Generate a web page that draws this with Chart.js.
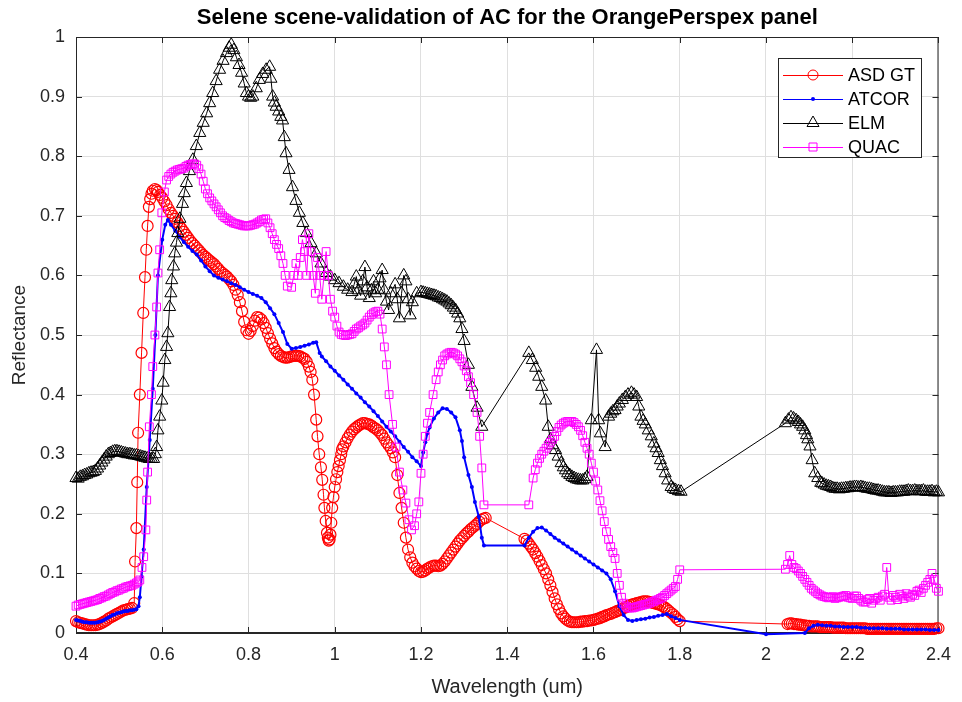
<!DOCTYPE html>
<html>
<head>
<meta charset="utf-8">
<script src="https://cdn.jsdelivr.net/npm/chart.js@4.4.1/dist/chart.umd.min.js"></script>
<style>
  html, body { margin: 0; padding: 0; background: #fff; }
  #wrap { width: 962px; height: 702px; }
</style>
</head>
<body>
<div id="wrap"><canvas id="chart" width="962" height="702"></canvas></div>
<script>
// [wavelength (um), reflectance]
const asdGT = [
  [0.400,0.020],[0.405,0.018],[0.410,0.017],[0.415,0.016],[0.420,0.015],[0.425,0.014],[0.430,0.013],[0.435,0.013],
  [0.440,0.013],[0.445,0.013],[0.450,0.014],[0.455,0.015],[0.460,0.017],[0.465,0.019],[0.470,0.021],[0.475,0.024],
  [0.480,0.026],[0.485,0.028],[0.490,0.030],[0.495,0.032],[0.500,0.034],[0.505,0.036],[0.510,0.038],[0.515,0.039],
  [0.520,0.040],[0.525,0.041],[0.530,0.042],[0.535,0.050],[0.537,0.120],[0.540,0.176],[0.542,0.253],[0.544,0.336],
  [0.548,0.400],[0.552,0.470],[0.556,0.537],[0.560,0.597],[0.563,0.643],[0.566,0.683],[0.569,0.715],[0.572,0.728],
  [0.575,0.737],[0.578,0.742],[0.583,0.745],[0.587,0.743],[0.590,0.740],[0.595,0.735],[0.600,0.730],[0.605,0.724],
  [0.610,0.718],[0.615,0.711],[0.620,0.705],[0.625,0.700],[0.630,0.695],[0.635,0.689],[0.640,0.683],[0.645,0.678],
  [0.650,0.673],[0.655,0.668],[0.660,0.663],[0.665,0.658],[0.670,0.654],[0.675,0.650],[0.680,0.646],[0.685,0.642],
  [0.690,0.638],[0.695,0.634],[0.700,0.631],[0.705,0.628],[0.710,0.625],[0.715,0.622],[0.720,0.619],[0.725,0.615],
  [0.730,0.611],[0.735,0.607],[0.740,0.604],[0.745,0.601],[0.750,0.598],[0.755,0.594],[0.760,0.590],[0.765,0.584],
  [0.770,0.576],[0.775,0.567],[0.780,0.555],[0.785,0.540],[0.790,0.522],[0.795,0.508],[0.800,0.502],[0.805,0.507],
  [0.810,0.515],[0.815,0.524],[0.820,0.530],[0.825,0.529],[0.830,0.526],[0.835,0.520],[0.840,0.512],[0.845,0.503],
  [0.850,0.494],[0.855,0.486],[0.860,0.478],[0.865,0.472],[0.870,0.468],[0.875,0.465],[0.880,0.463],[0.885,0.462],
  [0.890,0.462],[0.895,0.463],[0.900,0.464],[0.905,0.465],[0.910,0.465],[0.915,0.465],[0.920,0.464],[0.925,0.462],
  [0.930,0.460],[0.935,0.455],[0.940,0.447],[0.944,0.438],[0.948,0.425],[0.952,0.400],[0.957,0.358],[0.960,0.330],
  [0.964,0.300],[0.968,0.278],[0.971,0.257],[0.974,0.232],[0.976,0.210],[0.979,0.188],[0.982,0.168],[0.984,0.160],
  [0.986,0.155],[0.988,0.157],[0.990,0.165],[0.992,0.185],[0.994,0.210],[0.997,0.228],[1.000,0.245],[1.003,0.258],
  [1.006,0.270],[1.009,0.280],[1.012,0.290],[1.015,0.300],[1.017,0.308],[1.020,0.313],[1.025,0.320],[1.030,0.327],
  [1.035,0.333],[1.040,0.338],[1.045,0.342],[1.050,0.345],[1.055,0.348],[1.060,0.350],[1.065,0.352],[1.070,0.352],
  [1.075,0.351],[1.080,0.350],[1.085,0.348],[1.090,0.345],[1.095,0.343],[1.100,0.340],[1.105,0.336],[1.110,0.332],
  [1.115,0.326],[1.120,0.320],[1.125,0.315],[1.130,0.310],[1.135,0.303],[1.140,0.295],[1.145,0.265],[1.150,0.235],
  [1.155,0.210],[1.160,0.185],[1.165,0.160],[1.170,0.140],[1.175,0.127],[1.180,0.118],[1.185,0.112],[1.190,0.108],
  [1.195,0.104],[1.200,0.102],[1.205,0.103],[1.210,0.105],[1.215,0.108],[1.220,0.110],[1.225,0.112],[1.230,0.113],
  [1.235,0.113],[1.240,0.112],[1.245,0.113],[1.250,0.116],[1.255,0.120],[1.260,0.125],[1.265,0.130],[1.270,0.135],
  [1.275,0.140],[1.280,0.145],[1.285,0.150],[1.290,0.155],[1.295,0.159],[1.300,0.163],[1.305,0.167],[1.310,0.170],
  [1.315,0.174],[1.320,0.177],[1.325,0.180],[1.330,0.183],[1.335,0.187],[1.340,0.190],[1.345,0.192],[1.350,0.193],
  [1.440,0.158],[1.445,0.155],[1.450,0.150],[1.455,0.145],[1.460,0.140],[1.465,0.134],[1.470,0.128],[1.475,0.121],
  [1.480,0.114],[1.485,0.107],[1.490,0.100],[1.495,0.090],[1.500,0.080],[1.505,0.069],[1.510,0.058],[1.515,0.048],
  [1.520,0.040],[1.525,0.033],[1.530,0.028],[1.535,0.024],[1.540,0.021],[1.545,0.019],[1.550,0.018],[1.555,0.018],
  [1.560,0.018],[1.565,0.018],[1.570,0.019],[1.575,0.019],[1.580,0.020],[1.585,0.020],[1.590,0.021],[1.595,0.021],
  [1.600,0.022],[1.605,0.023],[1.610,0.024],[1.615,0.025],[1.620,0.027],[1.625,0.028],[1.630,0.030],[1.635,0.031],
  [1.640,0.032],[1.645,0.034],[1.650,0.035],[1.655,0.037],[1.660,0.038],[1.665,0.040],[1.670,0.042],[1.675,0.043],
  [1.680,0.045],[1.685,0.047],[1.690,0.048],[1.695,0.049],[1.700,0.050],[1.705,0.051],[1.710,0.052],[1.715,0.053],
  [1.720,0.053],[1.725,0.053],[1.730,0.052],[1.735,0.051],[1.740,0.050],[1.745,0.049],[1.750,0.048],[1.755,0.047],
  [1.760,0.045],[1.765,0.043],[1.770,0.040],[1.775,0.037],[1.780,0.034],[1.785,0.031],[1.790,0.027],[1.795,0.023],
  [1.800,0.020],[2.050,0.015],[2.055,0.016],[2.060,0.016],[2.065,0.015],[2.070,0.015],[2.075,0.014],[2.080,0.014],
  [2.085,0.013],[2.090,0.013],[2.095,0.012],[2.100,0.012],[2.105,0.011],[2.110,0.011],[2.115,0.011],[2.120,0.011],
  [2.125,0.010],[2.130,0.010],[2.135,0.010],[2.140,0.010],[2.145,0.010],[2.150,0.010],[2.155,0.009],[2.160,0.009],
  [2.165,0.009],[2.170,0.009],[2.175,0.009],[2.180,0.009],[2.185,0.008],[2.190,0.008],[2.195,0.008],[2.200,0.008],
  [2.205,0.008],[2.210,0.008],[2.215,0.008],[2.220,0.008],[2.225,0.008],[2.230,0.008],[2.235,0.007],[2.240,0.007],
  [2.245,0.007],[2.250,0.007],[2.255,0.007],[2.260,0.007],[2.265,0.007],[2.270,0.007],[2.275,0.007],[2.280,0.007],
  [2.285,0.007],[2.290,0.007],[2.295,0.007],[2.300,0.007],[2.305,0.007],[2.310,0.007],[2.315,0.007],[2.320,0.007],
  [2.325,0.007],[2.330,0.007],[2.335,0.007],[2.340,0.007],[2.345,0.007],[2.350,0.007],[2.355,0.007],[2.360,0.007],
  [2.365,0.007],[2.370,0.007],[2.375,0.007],[2.380,0.007],[2.385,0.007],[2.390,0.007],[2.395,0.008],[2.400,0.008]
];

const atcor = [
  [0.400,0.022],[0.405,0.021],[0.410,0.020],[0.415,0.019],[0.420,0.018],[0.425,0.018],[0.430,0.017],[0.435,0.017],
  [0.440,0.017],[0.445,0.017],[0.450,0.018],[0.455,0.019],[0.460,0.020],[0.465,0.022],[0.470,0.024],[0.475,0.026],
  [0.480,0.028],[0.485,0.030],[0.490,0.031],[0.495,0.033],[0.500,0.034],[0.505,0.035],[0.510,0.036],[0.515,0.037],
  [0.520,0.037],[0.525,0.038],[0.530,0.038],[0.535,0.039],[0.540,0.040],[0.545,0.045],[0.548,0.060],[0.552,0.095],
  [0.557,0.140],[0.564,0.245],[0.571,0.324],[0.578,0.410],[0.584,0.500],[0.590,0.600],[0.600,0.660],[0.607,0.685],
  [0.613,0.693],[0.620,0.685],[0.630,0.675],[0.640,0.665],[0.650,0.656],[0.660,0.648],[0.670,0.641],[0.680,0.635],
  [0.690,0.625],[0.700,0.615],[0.710,0.607],[0.720,0.600],[0.730,0.596],[0.740,0.593],[0.750,0.590],[0.760,0.587],
  [0.770,0.584],[0.780,0.580],[0.790,0.576],[0.800,0.572],[0.810,0.569],[0.820,0.566],[0.830,0.562],[0.840,0.555],
  [0.850,0.545],[0.860,0.535],[0.870,0.520],[0.880,0.505],[0.890,0.485],[0.900,0.477],[0.910,0.478],[0.920,0.480],
  [0.930,0.482],[0.940,0.484],[0.950,0.487],[0.957,0.488],[0.965,0.470],[0.970,0.464],[0.980,0.456],[0.990,0.447],
  [1.000,0.440],[1.010,0.432],[1.020,0.425],[1.030,0.417],[1.040,0.410],[1.050,0.402],[1.060,0.395],[1.070,0.387],
  [1.080,0.380],[1.090,0.372],[1.100,0.364],[1.110,0.355],[1.120,0.346],[1.130,0.338],[1.140,0.330],[1.150,0.321],
  [1.160,0.312],[1.170,0.304],[1.180,0.295],[1.190,0.288],[1.200,0.280],[1.205,0.303],[1.210,0.320],[1.215,0.335],
  [1.220,0.345],[1.230,0.360],[1.240,0.370],[1.250,0.377],[1.260,0.376],[1.270,0.370],[1.280,0.362],[1.290,0.340],
  [1.295,0.322],[1.300,0.295],[1.310,0.265],[1.318,0.245],[1.325,0.220],[1.334,0.195],[1.341,0.160],[1.346,0.147],
  [1.440,0.147],[1.450,0.160],[1.460,0.170],[1.470,0.176],[1.480,0.177],[1.490,0.172],[1.500,0.166],[1.510,0.160],
  [1.520,0.155],[1.530,0.150],[1.540,0.145],[1.550,0.140],[1.560,0.135],[1.570,0.130],[1.580,0.125],[1.590,0.120],
  [1.600,0.115],[1.610,0.110],[1.620,0.105],[1.630,0.100],[1.640,0.090],[1.650,0.070],[1.660,0.045],[1.670,0.030],
  [1.680,0.022],[1.690,0.020],[1.700,0.022],[1.710,0.023],[1.720,0.024],[1.730,0.026],[1.740,0.027],[1.750,0.029],
  [1.760,0.030],[1.770,0.032],[1.780,0.028],[1.790,0.025],[1.800,0.022],[2.000,-0.002],[2.090,0.000],[2.100,0.008],
  [2.110,0.012],[2.120,0.014],[2.130,0.013],[2.140,0.012],[2.150,0.012],[2.160,0.011],[2.170,0.011],[2.180,0.010],
  [2.190,0.010],[2.200,0.010],[2.210,0.010],[2.220,0.009],[2.230,0.009],[2.240,0.008],[2.250,0.008],[2.260,0.008],
  [2.270,0.008],[2.280,0.007],[2.290,0.007],[2.300,0.007],[2.310,0.007],[2.320,0.006],[2.330,0.006],[2.340,0.006],
  [2.350,0.006],[2.360,0.006],[2.370,0.006],[2.380,0.005],[2.390,0.005],[2.400,0.005]
];

const elm = [
  [0.400,0.260],[0.405,0.259],[0.410,0.262],[0.415,0.263],[0.420,0.265],[0.425,0.266],[0.430,0.268],[0.435,0.269],
  [0.440,0.270],[0.445,0.272],[0.450,0.276],[0.455,0.281],[0.460,0.286],[0.465,0.291],[0.470,0.296],[0.475,0.300],
  [0.480,0.302],[0.485,0.304],[0.490,0.305],[0.495,0.305],[0.500,0.304],[0.505,0.303],[0.510,0.302],[0.515,0.301],
  [0.520,0.300],[0.525,0.300],[0.530,0.299],[0.535,0.298],[0.540,0.298],[0.545,0.297],[0.550,0.296],[0.555,0.295],
  [0.560,0.294],[0.565,0.293],[0.570,0.292],[0.575,0.292],[0.580,0.292],[0.584,0.300],[0.587,0.312],[0.590,0.340],
  [0.594,0.363],[0.599,0.390],[0.602,0.420],[0.606,0.458],[0.610,0.480],[0.613,0.503],[0.617,0.547],[0.620,0.570],
  [0.622,0.592],[0.626,0.615],[0.629,0.637],[0.633,0.655],[0.636,0.671],[0.641,0.695],[0.647,0.720],[0.651,0.738],
  [0.656,0.755],[0.663,0.775],[0.671,0.794],[0.679,0.817],[0.687,0.839],[0.695,0.856],[0.703,0.872],[0.710,0.889],
  [0.717,0.906],[0.725,0.926],[0.733,0.945],[0.741,0.960],[0.749,0.973],[0.755,0.982],[0.760,0.987],[0.766,0.978],
  [0.772,0.966],[0.778,0.953],[0.784,0.940],[0.790,0.922],[0.795,0.906],[0.800,0.900],[0.805,0.898],[0.810,0.900],
  [0.818,0.914],[0.825,0.928],[0.833,0.938],[0.841,0.945],[0.849,0.950],[0.852,0.930],[0.856,0.900],[0.860,0.890],
  [0.864,0.883],[0.870,0.875],[0.875,0.866],[0.879,0.860],[0.883,0.832],[0.887,0.805],[0.894,0.777],[0.902,0.748],
  [0.910,0.725],[0.918,0.705],[0.926,0.688],[0.934,0.671],[0.945,0.654],[0.957,0.637],[0.968,0.620],[0.980,0.604],
  [0.990,0.598],[1.000,0.592],[1.010,0.587],[1.020,0.581],[1.030,0.576],[1.040,0.572],[1.045,0.585],[1.050,0.598],
  [1.055,0.575],[1.060,0.566],[1.065,0.590],[1.070,0.614],[1.075,0.580],[1.080,0.562],[1.085,0.575],[1.090,0.590],
  [1.095,0.570],[1.100,0.576],[1.105,0.595],[1.110,0.609],[1.115,0.575],[1.120,0.556],[1.125,0.542],[1.130,0.570],
  [1.140,0.585],[1.145,0.560],[1.150,0.528],[1.155,0.570],[1.160,0.600],[1.165,0.590],[1.170,0.560],[1.175,0.533],
  [1.180,0.555],[1.190,0.570],[1.200,0.572],[1.205,0.571],[1.210,0.570],[1.215,0.569],[1.220,0.568],[1.225,0.567],
  [1.230,0.566],[1.235,0.565],[1.240,0.563],[1.245,0.562],[1.250,0.560],[1.255,0.558],[1.260,0.556],[1.265,0.553],
  [1.270,0.550],[1.275,0.546],[1.280,0.542],[1.285,0.536],[1.290,0.528],[1.295,0.510],[1.300,0.490],[1.310,0.450],
  [1.318,0.413],[1.330,0.378],[1.341,0.346],[1.450,0.470],[1.458,0.458],[1.466,0.445],[1.473,0.430],[1.480,0.413],
  [1.489,0.390],[1.495,0.346],[1.500,0.325],[1.505,0.315],[1.512,0.307],[1.518,0.296],[1.525,0.285],[1.530,0.278],
  [1.535,0.273],[1.540,0.268],[1.545,0.265],[1.550,0.262],[1.555,0.260],[1.560,0.258],[1.565,0.257],[1.570,0.256],
  [1.575,0.256],[1.580,0.258],[1.585,0.262],[1.595,0.357],[1.607,0.475],[1.612,0.357],[1.616,0.335],[1.627,0.312],
  [1.635,0.363],[1.640,0.368],[1.645,0.372],[1.650,0.374],[1.655,0.380],[1.660,0.385],[1.667,0.391],[1.674,0.396],
  [1.680,0.400],[1.688,0.403],[1.694,0.400],[1.700,0.396],[1.705,0.380],[1.710,0.363],[1.715,0.356],[1.720,0.350],
  [1.727,0.340],[1.734,0.330],[1.740,0.318],[1.745,0.310],[1.750,0.302],[1.755,0.290],[1.760,0.280],[1.766,0.268],
  [1.772,0.256],[1.780,0.245],[1.785,0.242],[1.790,0.240],[1.797,0.238],[1.803,0.237],[2.045,0.352],[2.052,0.358],
  [2.058,0.362],[2.064,0.360],[2.070,0.357],[2.075,0.354],[2.080,0.350],[2.085,0.346],[2.090,0.340],[2.094,0.332],
  [2.097,0.325],[2.102,0.313],[2.107,0.290],[2.113,0.268],[2.120,0.260],[2.127,0.252],[2.130,0.251],[2.135,0.249],
  [2.140,0.247],[2.145,0.246],[2.150,0.245],[2.155,0.243],[2.160,0.242],[2.165,0.242],[2.170,0.241],[2.175,0.242],
  [2.180,0.242],[2.185,0.243],[2.190,0.243],[2.195,0.244],[2.200,0.244],[2.205,0.245],[2.210,0.245],[2.215,0.244],
  [2.220,0.245],[2.225,0.244],[2.230,0.243],[2.235,0.242],[2.240,0.242],[2.245,0.241],[2.250,0.240],[2.255,0.239],
  [2.260,0.239],[2.265,0.238],[2.270,0.237],[2.275,0.236],[2.280,0.236],[2.285,0.236],[2.290,0.235],[2.295,0.236],
  [2.300,0.236],[2.305,0.236],[2.310,0.237],[2.315,0.237],[2.320,0.237],[2.325,0.238],[2.330,0.239],[2.335,0.238],
  [2.340,0.238],[2.345,0.239],[2.350,0.238],[2.355,0.238],[2.360,0.238],[2.365,0.239],[2.370,0.237],[2.375,0.237],
  [2.380,0.237],[2.385,0.238],[2.390,0.236],[2.395,0.237],[2.400,0.236]
];

const quac = [
  [0.400,0.045],[0.405,0.047],[0.410,0.048],[0.415,0.049],[0.420,0.050],[0.425,0.051],[0.430,0.052],[0.435,0.053],
  [0.440,0.054],[0.445,0.055],[0.450,0.056],[0.455,0.058],[0.460,0.059],[0.465,0.061],[0.470,0.062],[0.475,0.064],
  [0.480,0.066],[0.485,0.068],[0.490,0.069],[0.495,0.071],[0.500,0.072],[0.505,0.074],[0.510,0.075],[0.515,0.077],
  [0.520,0.078],[0.525,0.079],[0.530,0.080],[0.535,0.082],[0.540,0.084],[0.544,0.086],[0.548,0.089],[0.553,0.110],
  [0.557,0.128],[0.562,0.173],[0.564,0.223],[0.566,0.270],[0.570,0.346],[0.575,0.400],[0.578,0.447],[0.583,0.500],
  [0.587,0.547],[0.590,0.604],[0.594,0.643],[0.599,0.705],[0.605,0.740],[0.610,0.760],[0.615,0.766],[0.620,0.770],
  [0.625,0.773],[0.630,0.775],[0.635,0.777],[0.640,0.778],[0.645,0.779],[0.650,0.780],[0.655,0.783],[0.660,0.785],
  [0.665,0.786],[0.670,0.787],[0.675,0.787],[0.680,0.785],[0.685,0.779],[0.690,0.770],[0.695,0.758],[0.700,0.745],
  [0.705,0.737],[0.710,0.730],[0.715,0.725],[0.720,0.720],[0.725,0.715],[0.730,0.710],[0.735,0.705],[0.740,0.700],
  [0.745,0.697],[0.750,0.695],[0.755,0.692],[0.760,0.690],[0.765,0.688],[0.770,0.687],[0.775,0.686],[0.780,0.685],
  [0.785,0.684],[0.790,0.683],[0.795,0.683],[0.800,0.683],[0.805,0.684],[0.810,0.685],[0.815,0.686],[0.820,0.688],
  [0.825,0.690],[0.830,0.693],[0.835,0.694],[0.840,0.695],[0.845,0.688],[0.850,0.680],[0.855,0.670],[0.860,0.660],
  [0.865,0.652],[0.870,0.645],[0.875,0.633],[0.880,0.620],[0.885,0.600],[0.890,0.582],[0.900,0.580],[0.905,0.600],
  [0.910,0.620],[0.915,0.600],[0.920,0.630],[0.925,0.660],[0.930,0.640],[0.935,0.600],[0.940,0.670],[0.945,0.640],
  [0.950,0.600],[0.955,0.570],[0.960,0.630],[0.965,0.600],[0.970,0.560],[0.975,0.600],[0.980,0.640],[0.985,0.600],
  [0.990,0.560],[0.995,0.540],[1.000,0.530],[1.005,0.515],[1.010,0.505],[1.015,0.501],[1.020,0.500],[1.025,0.499],
  [1.030,0.500],[1.035,0.501],[1.040,0.502],[1.045,0.506],[1.050,0.510],[1.055,0.512],[1.060,0.515],[1.065,0.517],
  [1.070,0.520],[1.075,0.525],[1.080,0.530],[1.085,0.534],[1.090,0.537],[1.095,0.539],[1.100,0.540],[1.105,0.535],
  [1.110,0.510],[1.115,0.480],[1.120,0.450],[1.126,0.400],[1.134,0.350],[1.142,0.312],[1.150,0.270],[1.158,0.240],
  [1.165,0.218],[1.172,0.190],[1.178,0.173],[1.185,0.180],[1.190,0.200],[1.195,0.220],[1.200,0.268],[1.205,0.300],
  [1.210,0.330],[1.215,0.352],[1.220,0.370],[1.228,0.400],[1.235,0.425],[1.240,0.438],[1.245,0.450],[1.250,0.458],
  [1.255,0.465],[1.260,0.468],[1.265,0.470],[1.270,0.471],[1.275,0.470],[1.280,0.468],[1.285,0.465],[1.290,0.460],
  [1.295,0.455],[1.300,0.448],[1.305,0.440],[1.310,0.430],[1.315,0.420],[1.322,0.400],[1.330,0.370],[1.336,0.330],
  [1.341,0.277],[1.346,0.215],[1.450,0.215],[1.460,0.260],[1.465,0.274],[1.470,0.285],[1.475,0.293],[1.480,0.300],
  [1.485,0.305],[1.490,0.310],[1.495,0.315],[1.500,0.320],[1.505,0.325],[1.510,0.330],[1.515,0.338],[1.520,0.345],
  [1.525,0.349],[1.530,0.352],[1.535,0.354],[1.540,0.355],[1.545,0.355],[1.550,0.355],[1.555,0.353],[1.560,0.350],
  [1.565,0.346],[1.570,0.340],[1.575,0.331],[1.580,0.320],[1.585,0.310],[1.590,0.300],[1.595,0.285],[1.600,0.270],
  [1.605,0.255],[1.610,0.240],[1.615,0.222],[1.620,0.205],[1.625,0.187],[1.630,0.170],[1.635,0.157],[1.640,0.145],
  [1.645,0.135],[1.650,0.125],[1.655,0.100],[1.660,0.080],[1.665,0.060],[1.670,0.050],[1.675,0.045],[1.680,0.042],
  [1.685,0.042],[1.690,0.042],[1.695,0.043],[1.700,0.044],[1.705,0.045],[1.710,0.046],[1.715,0.047],[1.720,0.048],
  [1.725,0.049],[1.730,0.050],[1.735,0.052],[1.740,0.053],[1.745,0.055],[1.750,0.056],[1.755,0.058],[1.760,0.060],
  [1.765,0.063],[1.770,0.066],[1.775,0.069],[1.780,0.072],[1.785,0.075],[1.790,0.078],[1.795,0.090],[1.800,0.106],
  [2.045,0.107],[2.050,0.115],[2.055,0.130],[2.060,0.115],[2.065,0.110],[2.070,0.108],[2.075,0.104],[2.080,0.100],
  [2.085,0.095],[2.090,0.090],[2.095,0.085],[2.100,0.080],[2.105,0.075],[2.110,0.072],[2.115,0.069],[2.120,0.066],
  [2.125,0.064],[2.130,0.062],[2.135,0.061],[2.140,0.060],[2.145,0.059],[2.150,0.060],[2.155,0.061],[2.160,0.058],
  [2.165,0.059],[2.170,0.060],[2.175,0.061],[2.180,0.062],[2.185,0.063],[2.190,0.060],[2.195,0.059],[2.200,0.058],
  [2.205,0.062],[2.210,0.062],[2.215,0.058],[2.220,0.055],[2.225,0.052],[2.230,0.052],[2.235,0.056],[2.240,0.058],
  [2.245,0.050],[2.250,0.055],[2.255,0.058],[2.260,0.060],[2.265,0.055],[2.270,0.062],[2.275,0.065],[2.280,0.110],
  [2.285,0.060],[2.290,0.055],[2.295,0.063],[2.300,0.060],[2.305,0.056],[2.310,0.065],[2.315,0.062],[2.320,0.058],
  [2.325,0.066],[2.330,0.062],[2.335,0.060],[2.340,0.065],[2.345,0.063],[2.350,0.070],[2.355,0.072],[2.360,0.068],
  [2.365,0.075],[2.370,0.080],[2.375,0.085],[2.380,0.090],[2.385,0.100],[2.390,0.090],[2.395,0.075],[2.400,0.070]
];

const seriesNames = ['ASD GT', 'ATCOR', 'ELM', 'QUAC'];
const seriesColors = ['#ff0000', '#0000ff', '#000000', '#ff00ff'];
const seriesMarkers = ['circle', 'dot', 'triangle', 'rect'];
const xTicks = [0.4, 0.6, 0.8, 1.0, 1.2, 1.4, 1.6, 1.8, 2.0, 2.2, 2.4];
const yTicks = [0, 0.1, 0.2, 0.3, 0.4, 0.5, 0.6, 0.7, 0.8, 0.9, 1.0];

const chartTitle = 'Selene scene-validation of AC for the OrangePerspex panel';
const axisColor = '#262626';
const fontFam = "'Liberation Sans', Arial, sans-serif";

Chart.defaults.font.family = fontFam;

const toPoints = arr => arr.map(p => ({ x: p[0], y: p[1] }));
const fmt = v => String(Number(v.toFixed(1)));

function markerOpts(kind, color) {
  if (kind === 'dot') {
    return { pointStyle: 'circle', pointRadius: 2, pointBackgroundColor: color, pointBorderColor: color, pointBorderWidth: 0 };
  }
  const r = { circle: 5.5, triangle: 7, rect: 5.5 }[kind];
  const w = kind === 'circle' ? 1.2 : 1;
  return { pointStyle: kind, pointRadius: r, pointBackgroundColor: 'rgba(0,0,0,0)', pointBorderColor: color, pointBorderWidth: w };
}

const allSeries = [asdGT, atcor, elm, quac];
const datasets = allSeries.map((s, i) => Object.assign({
  label: seriesNames[i],
  data: toPoints(s),
  showLine: true,
  borderColor: seriesColors[i],
  borderWidth: i === 1 ? 2 : 1,
  clip: false,
  order: 4 - i
}, markerOpts(seriesMarkers[i], seriesColors[i])));

function drawMarker(ctx, kind, x, y, color) {
  ctx.save();
  ctx.strokeStyle = color;
  ctx.fillStyle = color;
  ctx.lineWidth = 1;
  ctx.beginPath();
  if (kind === 'circle') {
    ctx.arc(x, y, 5, 0, Math.PI * 2);
    ctx.stroke();
  } else if (kind === 'dot') {
    ctx.arc(x, y, 2, 0, Math.PI * 2);
    ctx.fill();
  } else if (kind === 'triangle') {
    ctx.moveTo(x, y - 7);
    ctx.lineTo(x + 6, y + 3.5);
    ctx.lineTo(x - 6, y + 3.5);
    ctx.closePath();
    ctx.stroke();
  } else {
    ctx.rect(x - 4, y - 4, 8, 8);
    ctx.stroke();
  }
  ctx.restore();
}

// MATLAB style box, inner ticks, title and legend
const matlabDecor = {
  id: 'matlabDecor',
  beforeDatasetsDraw(chart) {
    const { ctx, chartArea: a, scales } = chart;
    ctx.save();
    ctx.strokeStyle = axisColor;
    ctx.lineWidth = 1;
    ctx.strokeRect(a.left + 0.5, a.top + 0.5, a.right - a.left - 1, a.bottom - a.top - 1);
    ctx.beginPath();
    xTicks.forEach(v => {
      const px = Math.round(scales.x.getPixelForValue(v)) + 0.5;
      ctx.moveTo(px, a.bottom); ctx.lineTo(px, a.bottom - 6);
      ctx.moveTo(px, a.top); ctx.lineTo(px, a.top + 6);
    });
    yTicks.forEach(v => {
      const py = Math.round(scales.y.getPixelForValue(v)) + 0.5;
      ctx.moveTo(a.left, py); ctx.lineTo(a.left + 6, py);
      ctx.moveTo(a.right, py); ctx.lineTo(a.right - 6, py);
    });
    ctx.stroke();
    ctx.restore();
  },
  afterDraw(chart) {
    const { ctx, chartArea: a } = chart;
    ctx.save();
    ctx.fillStyle = '#000';
    ctx.font = 'bold 22px ' + fontFam;
    ctx.textAlign = 'center';
    ctx.textBaseline = 'middle';
    ctx.fillText(chartTitle, (a.left + a.right) / 2, 18);

    const bx = 778, by = 58, bw = 144, bh = 100;
    ctx.fillStyle = '#fff';
    ctx.fillRect(bx, by, bw, bh);
    ctx.strokeStyle = axisColor;
    ctx.lineWidth = 1;
    ctx.strokeRect(bx + 0.5, by + 0.5, bw - 1, bh - 1);
    ctx.font = '18px ' + fontFam;
    ctx.textAlign = 'left';
    seriesNames.forEach((name, i) => {
      const y = by + 17 + i * 24;
      ctx.strokeStyle = seriesColors[i];
      ctx.beginPath();
      ctx.moveTo(bx + 5, y + 0.5);
      ctx.lineTo(bx + 65, y + 0.5);
      ctx.stroke();
      drawMarker(ctx, seriesMarkers[i], bx + 35, y, seriesColors[i]);
      ctx.fillStyle = '#000';
      ctx.fillText(name, bx + 70, y + 1);
    });
    ctx.restore();
  }
};

new Chart(document.getElementById('chart'), {
  type: 'scatter',
  data: { datasets },
  options: {
    responsive: false,
    animation: false,
    events: [],
    layout: { padding: { top: 37, right: 21, left: 0, bottom: 0 } },
    plugins: { legend: { display: false }, tooltip: { enabled: false }, title: { display: false } },
    scales: {
      x: {
        type: 'linear',
        min: 0.4,
        max: 2.4,
        afterFit: s => { s.height = 69; },
        afterBuildTicks: s => { s.ticks = xTicks.map(v => ({ value: v })); },
        ticks: { color: axisColor, font: { size: 18 }, padding: 11, maxRotation: 0, autoSkip: false, callback: v => fmt(v) },
        grid: { color: '#dfdfdf', drawTicks: false },
        border: { color: axisColor },
        title: { display: true, text: 'Wavelength (um)', color: axisColor, font: { size: 20 }, padding: { top: 0, bottom: 3 } }
      },
      y: {
        type: 'linear',
        min: 0,
        max: 1,
        afterFit: s => { s.width = 76; },
        afterBuildTicks: s => { s.ticks = yTicks.map(v => ({ value: v })); },
        ticks: { color: axisColor, font: { size: 18 }, padding: 11, autoSkip: false, callback: v => fmt(v) },
        grid: { color: '#dfdfdf', drawTicks: false },
        border: { color: axisColor },
        title: { display: true, text: 'Reflectance', color: axisColor, font: { size: 19 }, padding: { top: 8, bottom: 0 } }
      }
    }
  },
  plugins: [matlabDecor]
});
</script>
</body>
</html>
